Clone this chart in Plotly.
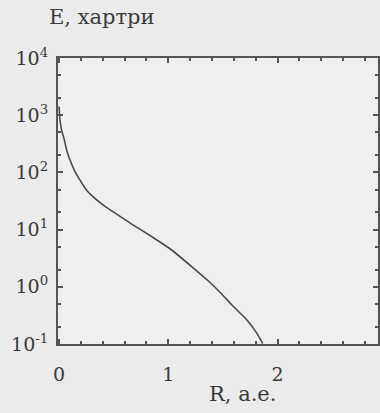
import plotly.graph_objects as go

R = [0.0, 0.008, 0.023, 0.048, 0.069, 0.099, 0.139, 0.19, 0.25, 0.33, 0.42, 0.52, 0.665, 0.85, 1.03, 1.216, 1.36, 1.48, 1.583, 1.72, 1.81, 1.864]
E = [1413, 832, 550, 372, 245, 166, 110, 74, 49, 34.7, 25.5, 19.0, 12.5, 7.5, 4.4, 2.24, 1.3, 0.78, 0.48, 0.263, 0.155, 0.102]

y_tickvals = [0.1, 1, 10, 100, 1000, 10000]
y_ticktext = ["10<sup>-1</sup>", "10<sup>0</sup>", "10<sup>1</sup>", "10<sup>2</sup>", "10<sup>3</sup>", "10<sup>4</sup>"]
x_tickvals = [0, 1, 2]
x_ticktext = ["0", "1", "2"]

W, H = 380, 413
ml, mr, mt, mb = 58, 2, 58, 69
axcol = "#555555"
font = dict(family="DejaVu Serif", size=19, color="#3a3a3a")
title_font = dict(family="DejaVu Serif", size=21, color="#3a3a3a")

fig = go.Figure()
fig.add_trace(go.Scatter(x=R, y=E, mode="lines", line=dict(color="#4a4a4a", width=1.6, shape="spline", smoothing=0.5), showlegend=False))

fig.update_layout(
    width=W, height=H,
    margin=dict(l=ml, r=mr, t=mt, b=mb),
    paper_bgcolor="#ebebeb", plot_bgcolor="#efefef",
    font=font,
)
fig.update_xaxes(
    range=[-0.01, 2.92], tickvals=x_tickvals, ticktext=x_ticktext, automargin=False,
    showgrid=False, zeroline=False, showline=True, linecolor=axcol, linewidth=2, mirror="ticks",
    ticks="inside", ticklen=5, tickcolor=axcol, tickwidth=1.5, ticklabelstandoff=12,
    tickfont=font,
    minor=dict(dtick=0.2, ticks="inside", ticklen=3, tickcolor=axcol, showgrid=False),
)
fig.update_yaxes(
    type="log", range=[-1, 4], tickvals=y_tickvals, ticktext=y_ticktext, automargin=False,
    showgrid=False, zeroline=False, showline=True, linecolor=axcol, linewidth=2, mirror="ticks",
    ticks="inside", ticklen=5, tickcolor=axcol, tickwidth=1.5, ticklabelstandoff=4,
    tickfont=font,
    minor=dict(ticks="inside", ticklen=3, tickcolor=axcol, showgrid=False),
)
fig.add_annotation(text="E, хартри", xref="paper", yref="paper", x=-0.035, y=1 + 41 / (H - mt - mb),
                   xanchor="left", yanchor="middle", showarrow=False, font=title_font)
fig.add_annotation(text="R, a.e.", xref="paper", yref="paper", x=(242 - ml) / (W - ml - mr), y=-(394 - (H - mb)) / (H - mt - mb),
                   xanchor="center", yanchor="middle", showarrow=False, font=title_font)

fig.write_html("out.html", config={"displayModeBar": False}, post_script="document.body.style.margin='0';")
